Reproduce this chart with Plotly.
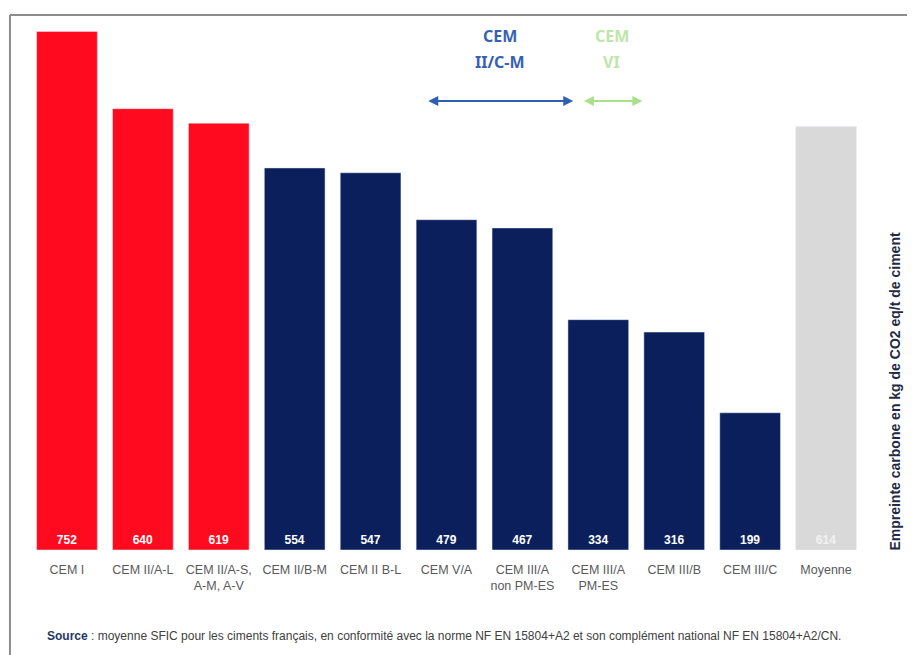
import plotly.graph_objects as go

# Données : empreinte carbone par type de ciment (kg CO2 eq/t)
categories = ["CEM I", "CEM II/A-L", "CEM II/A-S,<br>A-M, A-V", "CEM II/B-M", "CEM II B-L",
              "CEM V/A", "CEM III/A<br>non PM-ES", "CEM III/A<br>PM-ES", "CEM III/B",
              "CEM III/C", "Moyenne"]
valeurs = [752, 640, 619, 554, 547, 479, 467, 334, 316, 199, 614]
groupes = ["rouge", "rouge", "rouge", "bleu", "bleu", "bleu", "bleu", "bleu", "bleu", "bleu", "gris"]

couleurs = {"rouge": "#FF0A1E", "bleu": "#0A1F5C", "gris": "#D9D9D9"}
couleurs_texte = {"rouge": "white", "bleu": "white", "gris": "#F2F2F2"}

fig = go.Figure(go.Bar(
    x=categories,
    y=valeurs,
    marker_color=[couleurs[g] for g in groupes],
    text=valeurs,
    textposition="inside",
    insidetextanchor="start",
    textfont=dict(family="Liberation Sans", size=12, color=[couleurs_texte[g] for g in groupes],
                  weight="bold"),
    hoverinfo="x+y",
))

# Flèches CEM II/C-M et CEM VI
fleches = [
    dict(x0=4.74, x1=6.67, label="CEM", label2="II/C-M", xt=5.70, color="#2F5FB3", tc="#3562B5"),
    dict(x0=6.79, x1=7.58, label="CEM", label2="VI", xt=7.18, color="#A8E08C", tc="#BDE6A8"),
]
for f in fleches:
    fig.add_annotation(x=f["x1"], y=651, ax=f["x0"], ay=651, xref="x", yref="y", axref="x", ayref="y",
                       text="", showarrow=True, arrowhead=2, arrowside="end+start",
                       arrowsize=1, arrowwidth=2, arrowcolor=f["color"])
    fig.add_annotation(x=f["xt"], y=745, xref="x", yref="y", text=f["label"], showarrow=False,
                       font=dict(family="Noto Sans", size=16, color=f["tc"], weight="bold"))
    fig.add_annotation(x=f["xt"], y=708, xref="x", yref="y", text=f["label2"], showarrow=False,
                       font=dict(family="Noto Sans", size=16, color=f["tc"], weight="bold"))

# Titre de l'axe (à droite)
fig.add_annotation(x=1.037, y=0.30, xref="paper", yref="paper", showarrow=False, textangle=-90,
                   xanchor="center", yanchor="middle",
                   text="Empreinte carbone en kg de CO2 eq/t de ciment",
                   font=dict(family="Liberation Sans", size=14, color="#1F2A44", weight="bold"))

# Source
fig.add_annotation(x=0.019, y=-0.162, xref="paper", yref="paper", showarrow=False,
                   xanchor="left", yanchor="middle",
                   text="<b><span style='color:#1F3864'>Source</span></b> : moyenne SFIC pour les ciments "
                        "français, en conformité avec la norme NF EN 15804+A2 et son complément national "
                        "NF EN 15804+A2/CN.",
                   font=dict(family="Liberation Sans", size=12, color="#404040"))

# Cadre gris
fig.add_shape(type="line", xref="paper", yref="paper", x0=-0.0228, x1=1.1, y0=1.0075, y1=1.0075,
              line=dict(color="#8C8C8C", width=2))
fig.add_shape(type="line", xref="paper", yref="paper", x0=-0.0228, x1=-0.0228, y0=1.0075, y1=-0.22,
              line=dict(color="#8C8C8C", width=2))

# la page ajoute une marge de 8 px : la figure fait donc 907 x 647
fig.update_layout(
    width=907, height=647,
    margin=dict(l=21, r=51, t=11, b=105),
    plot_bgcolor="white", paper_bgcolor="white",
    bargap=0.2,
    showlegend=False,
    xaxis=dict(showline=False, showgrid=False, ticks="outside", ticklen=8, tickcolor="white",
               tickfont=dict(family="Liberation Sans", size=12.5, color="#595959"), tickangle=0),
    yaxis=dict(range=[0, 770], visible=False, showgrid=False),
)

fig.write_html("out.html")
